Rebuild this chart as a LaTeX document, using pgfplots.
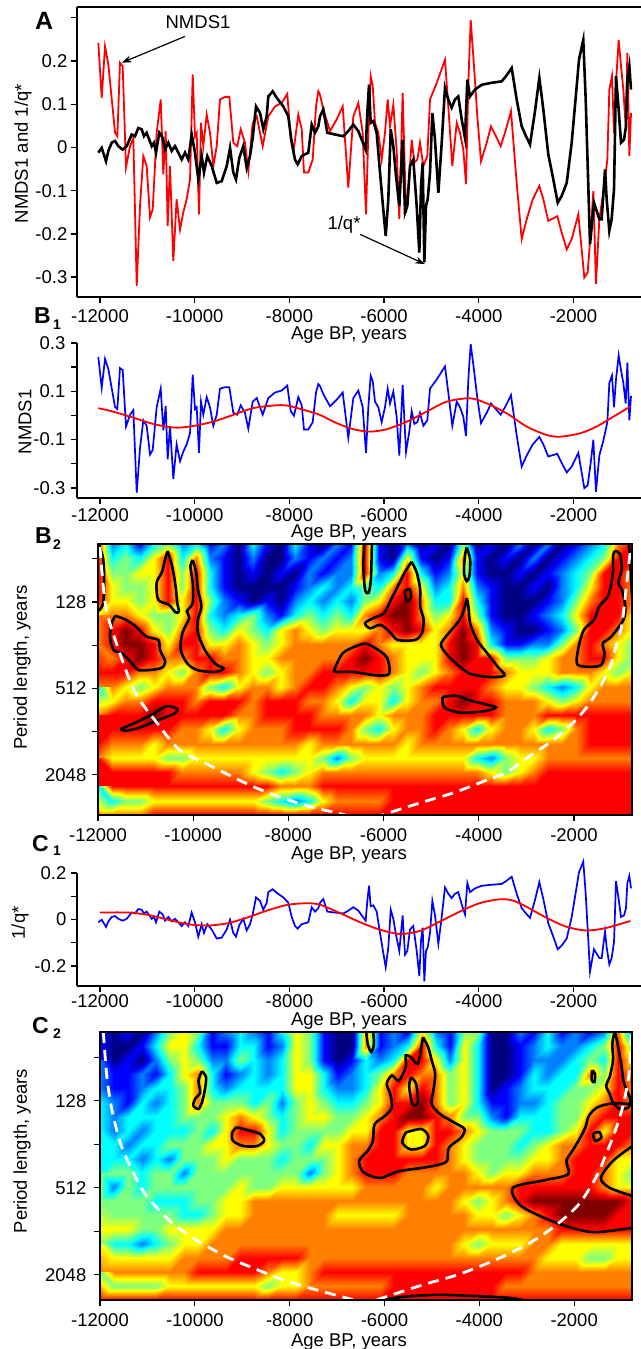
\documentclass[border=0pt]{standalone}
\usepackage{fontspec}
\setmainfont{Liberation Sans}
\usepackage{pgfplots}
\pgfplotsset{compat=1.18}
\usepackage{pgfplotstable}
\usetikzlibrary{arrows.meta}

\pgfplotstableread{
age v
-12036 0.242
-11964 0.115
-11894 0.234
-11824 0.192
-11683 0.035
-11634 0.026
-11578 0.196
-11521 0.188
-11451 -0.046
-11366 0.003
-11296 0.022
-11225 -0.320
-11155 -0.135
-11085 -0.020
-11014 -0.043
-10944 -0.162
-10887 -0.143
-10803 0.034
-10718 0.111
-10663 -0.062
-10613 0.038
-10571 -0.182
-10522 -0.043
-10452 -0.263
-10382 -0.120
-10310 -0.190
-10241 -0.150
-10170 -0.120
-10099 -0.074
-10042 0.169
-9994 0.026
-9958 0.034
-9909 -0.155
-9867 0.057
-9818 0.003
-9747 0.076
-9677 0.034
-9607 -0.043
-9535 0.003
-9466 0.111
-9360 0.117
-9269 0.117
-9185 0.011
-9100 0.003
-9028 0.042
-8938 0.011
-8868 -0.055
-8775 0.057
-8690 0.072
-8564 0.003
-8445 0.072
-8304 0.095
-8163 0.103
-8044 0.124
-7972 0.018
-7903 -0.001
-7812 0.076
-7740 0.042
-7692 -0.058
-7601 -0.058
-7508 -0.028
-7438 0.095
-7389 0.130
-7354 0.122
-7284 0.088
-7142 0.038
-7001 0.065
-6874 0.095
-6756 -0.093
-6650 0.072
-6544 0.103
-6452 0.034
-6382 -0.155
-6333 0.034
-6283 0.165
-6240 0.142
-6192 0.057
-6122 0.034
-6051 -0.028
-5981 0.034
-5924 0.111
-5875 0.049
-5805 0.099
-5735 -0.005
-5679 -0.166
-5608 0.126
-5537 -0.151
-5467 -0.066
-5417 0.018
-5361 -0.035
-5298 -0.028
-5242 0.011
-5171 -0.043
-5087 -0.020
-5030 0.111
-4889 0.149
-4714 0.203
-4644 0.095
-4559 -0.043
-4466 0.057
-4397 0.034
-4327 -0.005
-4270 -0.085
-4221 0.149
-4171 0.295
-4101 0.188
-4031 0.072
-3953 -0.032
-3833 0.011
-3742 0.049
-3637 0.026
-3537 0.003
-3425 0.042
-3320 0.084
-3200 -0.082
-3094 -0.212
-2988 -0.166
-2861 -0.120
-2721 -0.089
-2637 -0.120
-2532 -0.170
-2342 -0.159
-2249 -0.197
-2143 -0.236
-2038 -0.212
-1898 -0.155
-1771 -0.301
-1700 -0.289
-1637 -0.197
-1581 -0.101
-1525 -0.316
-1454 -0.166
-1370 -0.105
-1285 -0.028
-1243 0.134
-1187 0.165
-1144 0.034
-1102 0.149
-1046 0.249
-996 0.188
-947 0.134
-897 0.049
-862 0.219
-820 -0.020
-785 0.080
}\nmds

\pgfplotstableread{
age v
-12036 -0.012
-11964 -0.001
-11873 -0.032
-11824 -0.008
-11753 0.011
-11683 0.015
-11613 0.003
-11521 -0.005
-11436 0.003
-11331 0.030
-11261 0.026
-11191 0.045
-11120 0.042
-11071 0.026
-11014 0.034
-10959 0.018
-10908 0.003
-10860 0.011
-10817 -0.012
-10748 0.034
-10676 0.022
-10627 -0.005
-10557 0.011
-10486 -0.008
-10416 0.003
-10346 -0.012
-10275 -0.028
-10205 -0.012
-10135 -0.028
-10064 0.030
-9994 -0.012
-9924 -0.074
-9853 -0.020
-9804 -0.058
-9734 -0.020
-9641 -0.043
-9535 -0.082
-9430 -0.078
-9324 -0.043
-9254 -0.001
-9185 -0.058
-9128 -0.074
-9058 -0.024
-8974 0.003
-8902 -0.047
-8832 -0.020
-8775 0.022
-8705 0.095
-8621 0.080
-8551 0.042
-8480 0.072
-8445 0.118
-8353 0.130
-8268 0.115
-8129 0.095
-8023 0.072
-7951 0.011
-7882 -0.028
-7825 -0.039
-7740 -0.020
-7670 -0.016
-7601 -0.012
-7529 0.053
-7459 0.034
-7389 0.049
-7354 0.072
-7284 0.088
-7199 0.034
-7037 0.030
-6862 0.026
-6756 0.038
-6650 0.053
-6544 0.038
-6473 0.018
-6389 -0.005
-6354 0.080
-6319 0.145
-6283 0.057
-6227 0.061
-6157 0.034
-6086 -0.058
-6030 -0.128
-5966 -0.205
-5911 -0.120
-5860 0.042
-5805 0.003
-5748 -0.066
-5679 -0.135
-5608 0.018
-5558 -0.151
-5509 -0.135
-5453 -0.043
-5383 -0.028
-5312 -0.135
-5256 -0.243
-5220 -0.089
-5185 -0.035
-5150 -0.266
-5115 -0.135
-5079 -0.120
-5030 -0.058
-4981 0.080
-4925 0.018
-4854 -0.105
-4783 0.011
-4714 0.138
-4644 0.111
-4573 0.092
-4502 0.111
-4433 0.118
-4361 0.065
-4291 0.022
-4242 0.157
-4186 0.118
-4080 0.134
-3939 0.145
-3763 0.149
-3516 0.153
-3425 0.165
-3305 0.184
-3200 0.111
-3094 0.049
-3003 0.026
-2918 0.007
-2813 0.084
-2721 0.161
-2637 0.088
-2532 -0.016
-2426 -0.074
-2333 -0.128
-2249 -0.112
-2143 -0.082
-2038 0.011
-1932 0.142
-1884 0.203
-1793 0.249
-1742 0.111
-1687 -0.089
-1651 -0.224
-1567 -0.128
-1454 -0.166
-1405 -0.166
-1334 -0.051
-1299 -0.120
-1243 -0.193
-1194 -0.166
-1144 -0.097
-1102 0.165
-1046 0.088
-996 0.011
-933 0.018
-891 0.049
-862 0.157
-820 0.188
-785 0.134
}\invq

\pgfplotstableread{
age v
-12036 0.030
-11725 0.016
-11303 -0.009
-10881 -0.035
-10458 -0.050
-10099 -0.046
-9613 -0.026
-9191 0.002
-8769 0.030
-8346 0.041
-8051 0.041
-7628 0.019
-7354 0.002
-7001 -0.032
-6650 -0.057
-6298 -0.067
-5945 -0.057
-5523 -0.026
-5100 0.016
-4678 0.057
-4186 0.071
-3833 0.050
-3411 0.009
-2988 -0.046
-2566 -0.081
-2285 -0.088
-1862 -0.074
-1510 -0.046
-1159 -0.005
-806 0.036
}\nmdsfit

\pgfplotstableread{
age v
-12000 0.030
-11404 0.030
-10984 0.020
-10564 -0.001
-10144 -0.020
-9724 -0.026
-9304 -0.016
-8884 0.009
-8464 0.039
-8044 0.063
-7624 0.070
-7344 0.063
-6924 0.027
-6504 -0.012
-6084 -0.044
-5664 -0.062
-5244 -0.049
-4824 -0.009
-4404 0.034
-3984 0.070
-3564 0.087
-3285 0.082
-3004 0.056
-2584 0.009
-2164 -0.030
-1744 -0.047
-1324 -0.037
-799 -0.006
}\invqfit

\newcommand{\lf}{\fontsize{18.5bp}{22bp}\selectfont}

\pgfplotsset{
  every non boxed x axis/.style={},
  every non boxed y axis/.style={},
  common/.style={
    scale only axis,
    scaled x ticks=false, scaled y ticks=false,
    tick align=outside,
    major tick length=5.5bp,
    every tick/.append style={line width=1.3bp, black},
    axis line style={line width=1.5bp, -},
    tick label style={font=\lf, inner sep=0pt},
    xtick={-12000,-10000,-8000,-6000,-4000,-2000},
    xticklabels={-12000,-10000,-8000,-6000,-4000,-2000},
    xticklabel style={anchor=north},
    yticklabel style={anchor=east},
    xlabel={Age BP, years},
  },
  lineaxis/.style={common, axis lines=left, xmin=-12486, xmax=-574, width=564bp},
  heat/.style={common, axis on top, xmin=-12000, xmax=-780, y dir=reverse,
    xtick pos=left, ytick pos=left, ytick={6,7,8,9,10,11},
    yticklabels={,128,,512,,2048}, ylabel={Period length, years},
    colormap/jet, point meta min=0, point meta max=8},
  cont/.style={black, line width=2.6bp, smooth, tension=0.5},
  coi/.style={white, line width=2.8bp, dash pattern=on 11bp off 7bp, smooth},
}

\begin{document}
\begin{tikzpicture}
\useasboundingbox (0,0) rectangle (641bp,-1349bp);
\fill[white] (0,0) rectangle (641bp,-1349bp);

% ---------------- Panel A
\begin{axis}[lineaxis, at={(77bp,-7bp)}, anchor=north west, height=290bp,
  ymin=-0.346, ymax=0.325, clip=false,
  ytick={-0.3,-0.2,-0.1,0,0.1,0.2,0.3}, yticklabels={-0.3,-0.2,-0.1,0,0.1,0.2,},
  ylabel={NMDS1 and 1/q*},
  xlabel style={font=\lf, inner sep=0pt, at={(axis description cs:0.4823,0)}, anchor=north, yshift=-30bp},
  ylabel style={font=\lf, inner sep=0pt, at={(axis description cs:-0.0957,0.494)}, anchor=center},
  xticklabel style={yshift=-7bp}, yticklabel style={xshift=-4bp}]
\addplot[red, line width=1.8bp] table[x=age,y=v]{\nmds};
\addplot[black, line width=2.6bp] table[x=age,y=v]{\invq};
\draw[line width=1.5bp] (rel axis cs:0,1) -- (rel axis cs:1,1);
\node[font=\lf] at (axis cs:-9930,0.289) {NMDS1};
\draw[-{Stealth[length=10bp,width=7bp]}, line width=1.2bp] (axis cs:-10205,0.257) -- (axis cs:-11542,0.196);
\node[font=\lf] at (axis cs:-6847,-0.178) {1/q*};
\draw[-{Stealth[length=10bp,width=7bp]}, line width=1.2bp] (axis cs:-6509,-0.201) -- (axis cs:-5136,-0.270);
\end{axis}

% ---------------- Panel B1
\begin{axis}[lineaxis, at={(77bp,-343bp)}, anchor=north west, height=155bp,
  ymin=-0.342, ymax=0.3, clip=false,
  ytick={-0.3,-0.2,-0.1,0,0.1,0.2,0.3}, yticklabels={-0.3,,-0.1,,0.1,,0.3},
  ylabel={NMDS1},
  xlabel style={font=\lf, inner sep=0pt, at={(axis description cs:0.4823,0)}, anchor=north, yshift=-27bp},
  ylabel style={font=\lf, inner sep=0pt, at={(axis description cs:-0.0922,0.492)}, anchor=center},
  xticklabel style={yshift=-5bp}, yticklabel style={xshift=-6bp}]
\addplot[blue, line width=1.7bp] table[x=age,y=v]{\nmds};
\addplot[red, line width=1.8bp, smooth] table[x=age,y=v]{\nmdsfit};
\end{axis}

% ---------------- Panel B2
\begin{axis}[heat, at={(98bp,-544bp)}, anchor=north west, width=534bp, height=271bp,
  ymin=5.66, ymax=11.93,
  xlabel style={font=\lf, inner sep=0pt, at={(axis description cs:0.470,0)}, anchor=north, yshift=-32bp},
  ylabel style={font=\lf, inner sep=0pt, at={(axis description cs:-0.1423,0.544)}, anchor=center},
  xticklabel style={yshift=-8bp}, yticklabel style={xshift=-6bp}]
\addplot[surf, shader=interp, mesh/cols=39, point meta=explicit] table[header=false, row sep=\\, meta index=0,
  x expr={-12000+mod(\coordindex,39)*295.2632}, y expr={5.66+floor(\coordindex/39)*0.33}] {
7\\2\\3\\1\\3\\4\\2\\3\\1\\2\\0\\3\\1\\0\\3\\1\\0\\2\\1\\7\\1\\0\\2\\0\\1\\0\\4\\0\\1\\0\\2\\0\\2\\0\\1\\2\\3\\6\\7\\
7\\3\\4\\3\\5\\7\\3\\6\\2\\1\\0\\2\\0\\0\\2\\1\\2\\1\\2\\7\\1\\0\\5\\1\\0\\1\\6\\1\\0\\1\\0\\2\\0\\1\\2\\3\\4\\7\\7\\
7\\4\\4\\5\\5\\7\\4\\7\\3\\1\\0\\1\\0\\1\\0\\2\\1\\2\\2\\7\\2\\3\\7\\3\\1\\2\\5\\1\\0\\0\\1\\0\\1\\2\\3\\4\\7\\7\\6\\
7\\5\\4\\4\\5\\7\\4\\7\\3\\1\\0\\0\\0\\0\\1\\2\\3\\2\\3\\4\\3\\6\\7\\5\\2\\3\\6\\2\\1\\0\\0\\1\\0\\2\\3\\5\\7\\7\\6\\
7\\5\\5\\4\\5\\7\\5\\7\\4\\2\\1\\0\\1\\0\\2\\3\\2\\3\\2\\4\\5\\7\\8\\6\\3\\3\\7\\3\\1\\0\\0\\0\\1\\2\\4\\6\\7\\7\\6\\
5\\6\\6\\5\\4\\4\\5\\7\\3\\2\\3\\4\\2\\1\\3\\4\\3\\4\\3\\6\\7\\8\\8\\6\\4\\5\\7\\4\\1\\0\\0\\1\\2\\3\\5\\7\\7\\7\\5\\
6\\7\\8\\7\\5\\4\\6\\7\\4\\3\\5\\4\\3\\5\\6\\5\\4\\5\\5\\5\\6\\7\\8\\7\\5\\6\\8\\6\\2\\1\\0\\0\\1\\2\\4\\7\\7\\6\\5\\
6\\7\\8\\8\\7\\5\\7\\7\\5\\5\\6\\5\\4\\5\\6\\6\\6\\6\\6\\7\\6\\5\\5\\5\\5\\7\\8\\7\\3\\1\\1\\2\\2\\4\\6\\7\\6\\5\\4\\
6\\6\\7\\8\\7\\6\\6\\7\\7\\6\\6\\5\\5\\6\\6\\6\\6\\6\\7\\8\\7\\6\\5\\5\\5\\7\\8\\7\\7\\4\\4\\4\\5\\6\\6\\7\\7\\5\\4\\
7\\7\\7\\6\\6\\5\\4\\6\\7\\7\\6\\5\\4\\5\\6\\6\\7\\7\\7\\7\\7\\6\\5\\4\\5\\6\\7\\7\\7\\6\\5\\5\\5\\6\\6\\6\\5\\4\\5\\
6\\6\\5\\4\\5\\6\\6\\6\\4\\3\\5\\6\\6\\5\\6\\7\\7\\6\\5\\4\\5\\4\\5\\6\\7\\7\\7\\7\\6\\5\\5\\4\\3\\2\\3\\5\\6\\6\\6\\
3\\5\\6\\6\\7\\7\\7\\6\\7\\7\\7\\6\\7\\7\\7\\6\\6\\5\\3\\5\\5\\3\\5\\6\\6\\7\\8\\7\\7\\6\\6\\6\\5\\4\\5\\6\\6\\6\\6\\
6\\7\\7\\7\\8\\7\\7\\7\\7\\7\\6\\6\\7\\7\\7\\7\\6\\6\\6\\6\\5\\6\\6\\6\\7\\7\\7\\7\\7\\6\\6\\6\\7\\7\\7\\7\\7\\7\\7\\
7\\7\\7\\7\\7\\7\\6\\6\\5\\3\\5\\6\\6\\6\\7\\7\\7\\7\\6\\4\\3\\5\\6\\6\\7\\6\\5\\3\\5\\6\\6\\5\\3\\4\\6\\7\\7\\7\\7\\
7\\6\\6\\6\\5\\6\\6\\6\\6\\6\\6\\6\\6\\6\\6\\5\\6\\6\\6\\6\\6\\6\\5\\6\\6\\6\\6\\6\\6\\6\\6\\6\\6\\6\\6\\7\\7\\7\\7\\
6\\5\\5\\5\\5\\4\\4\\5\\5\\5\\5\\5\\5\\5\\5\\5\\4\\2\\4\\5\\5\\5\\5\\5\\5\\5\\5\\3\\2\\4\\5\\5\\6\\6\\6\\6\\6\\6\\6\\
7\\7\\7\\7\\7\\7\\6\\6\\6\\6\\6\\5\\4\\3\\4\\5\\6\\6\\6\\6\\6\\6\\6\\6\\6\\6\\6\\6\\5\\4\\5\\6\\7\\7\\7\\7\\7\\7\\7\\
7\\7\\7\\7\\7\\7\\7\\7\\7\\7\\7\\7\\7\\6\\6\\6\\7\\7\\7\\7\\7\\7\\7\\7\\7\\7\\7\\7\\7\\7\\7\\7\\7\\7\\7\\7\\7\\7\\7\\
3\\3\\4\\4\\5\\5\\5\\5\\5\\5\\5\\5\\4\\3\\2\\3\\5\\6\\6\\6\\6\\7\\7\\7\\7\\7\\7\\7\\7\\7\\7\\7\\7\\7\\7\\7\\7\\7\\7\\
6\\6\\6\\6\\7\\7\\7\\7\\7\\7\\7\\7\\7\\7\\7\\7\\7\\7\\7\\7\\7\\7\\7\\7\\7\\7\\7\\7\\7\\7\\7\\7\\7\\7\\7\\7\\7\\7\\7\\
};
\addplot[cont] coordinates {(-11986,5.66) (-11891,6.01) (-11870,6.56) (-11891,7.02) (-11964,7.18) (-12010,7.2)};
\addplot[cont] coordinates {(-10538,5.82) (-10443,6.17) (-10371,6.63) (-10335,7.02) (-10299,7.22) (-10371,7.24) (-10516,7.06) (-10733,6.95) (-10769,6.56) (-10660,6.32) (-10588,6.01) (-10538,5.82)};
\addplot[cont] coordinates {(-10009,6.03) (-9937,6.32) (-9900,6.71) (-9828,7.10) (-9900,7.41) (-9900,7.72) (-9756,8.11) (-9538,8.43) (-9357,8.54) (-9538,8.62) (-9900,8.58) (-10118,8.43) (-10262,8.11) (-10226,7.72) (-10081,7.37) (-10132,7.22) (-10009,7.02) (-10009,6.56) (-10060,6.17) (-10009,6.03)};
\addplot[cont] coordinates {(-11638,7.32) (-11421,7.41) (-11204,7.57) (-10986,7.80) (-10733,7.88) (-10697,8.11) (-10588,8.39) (-10697,8.54) (-11131,8.58) (-11276,8.43) (-11493,8.19) (-11674,8.11) (-11747,7.80) (-11710,7.49) (-11638,7.32)};
\addplot[cont] coordinates {(-11529,9.94) (-11204,9.79) (-10842,9.59) (-10552,9.41) (-10335,9.48) (-10407,9.59) (-10769,9.75) (-11131,9.91) (-11421,9.98) (-11529,9.94)};
\addplot[cont] coordinates {(-6404,5.6) (-6425,6.17) (-6389,6.71) (-6317,6.79) (-6266,6.48) (-6244,5.6)};
\addplot[cont] coordinates {(-5412,6.07) (-5303,6.32) (-5231,6.71) (-5231,7.10) (-5158,7.41) (-5195,7.72) (-5339,7.88) (-5701,7.88) (-5846,7.72) (-6063,7.53) (-6281,7.61) (-6389,7.49) (-6208,7.37) (-5991,7.26) (-5846,6.95) (-5665,6.56) (-5557,6.32) (-5448,6.13) (-5412,6.07)};
\addplot[cont] coordinates {(-5557,6.75) (-5448,6.71) (-5426,6.91) (-5520,6.98) (-5557,6.75)};
\addplot[cont] coordinates {(-7041,8.58) (-6860,8.19) (-6570,8.02) (-6353,7.97) (-6063,8.15) (-5918,8.31) (-5882,8.66) (-6136,8.70) (-6643,8.62) (-7005,8.62) (-7041,8.58)};
\addplot[cont] coordinates {(-4253,5.74) (-4181,6.01) (-4195,6.40) (-4253,6.52) (-4311,6.32) (-4289,5.93) (-4253,5.74)};
\addplot[cont] coordinates {(-4253,6.91) (-4217,7.10) (-4181,7.49) (-4036,7.88) (-3819,8.19) (-3602,8.50) (-3458,8.70) (-3747,8.74) (-4181,8.66) (-4471,8.43) (-4688,8.19) (-4796,7.99) (-4688,7.80) (-4398,7.41) (-4289,7.10) (-4253,6.91)};
\addplot[cont] coordinates {(-4760,9.20) (-4471,9.17) (-4181,9.28) (-3891,9.36) (-3638,9.44) (-3891,9.53) (-4398,9.56) (-4724,9.44) (-4760,9.20)};
\addplot[cont] coordinates {(-1141,5.82) (-1032,5.89) (-996,6.24) (-1068,6.56) (-996,6.71) (-923,7.10) (-959,7.41) (-1213,7.80) (-1394,7.96) (-1358,8.19) (-1430,8.46) (-1720,8.50) (-1937,8.43) (-1901,8.04) (-1792,7.65) (-1575,7.41) (-1466,7.10) (-1285,6.87) (-1213,6.56) (-1177,6.24) (-1177,5.93) (-1141,5.82)};
\addplot[cont] coordinates {(-851,5.6) (-822,6.0) (-779,6.9)};
\addplot[coi] coordinates {(-11958,5.73) (-11853,7.00) (-11685,7.72) (-11244,9.04) (-10760,9.80) (-10277,10.43) (-9710,10.75) (-8807,11.24) (-8113,11.54) (-7504,11.75) (-7063,11.86) (-6769,11.94) (-6390,12.05) (-5949,11.90) (-5235,11.65) (-4541,11.42) (-3827,11.12) (-3407,10.94) (-2987,10.61) (-2440,10.20) (-2020,9.80) (-1726,9.43) (-1453,8.97) (-1243,8.51) (-1138,8.11) (-1032,7.72) (-970,7.35) (-822,5.87)};
\end{axis}

% ---------------- Panel C1
\begin{axis}[lineaxis, at={(77bp,-873bp)}, anchor=north west, height=113bp,
  ymin=-0.286, ymax=0.2, clip=false,
  ytick={-0.2,-0.1,0,0.1,0.2}, yticklabels={-0.2,,0,,0.2},
  ylabel={1/q*},
  xlabel style={font=\lf, inner sep=0pt, at={(axis description cs:0.4823,0)}, anchor=north, yshift=-27bp},
  ylabel style={font=\lf, inner sep=0pt, at={(axis description cs:-0.1011,0.558)}, anchor=center},
  xticklabel style={yshift=-3bp}, yticklabel style={xshift=-5bp}]
\addplot[blue, line width=1.7bp] table[x=age,y=v]{\invq};
\addplot[red, line width=1.8bp, smooth] table[x=age,y=v]{\invqfit};
\end{axis}

% ---------------- Panel C2
\begin{axis}[heat, at={(100bp,-1032bp)}, anchor=north west, width=532bp, height=268bp,
  ymin=5.42, ymax=11.58,
  xlabel style={font=\lf, inner sep=0pt, at={(axis description cs:0.468,0)}, anchor=north, yshift=-34bp},
  ylabel style={font=\lf, inner sep=0pt, at={(axis description cs:-0.1466,0.556)}, anchor=center},
  xticklabel style={yshift=-8bp}, yticklabel style={xshift=-8bp}]
\addplot[surf, shader=interp, mesh/cols=39, point meta=explicit] table[header=false, row sep=\\, meta index=0,
  x expr={-12000+mod(\coordindex,39)*295.2632}, y expr={5.42+floor(\coordindex/39)*0.32421}] {
1\\0\\1\\0\\2\\4\\5\\4\\1\\2\\3\\2\\1\\3\\5\\4\\1\\0\\0\\6\\1\\2\\1\\5\\2\\1\\4\\4\\0\\0\\2\\1\\3\\1\\2\\1\\2\\6\\2\\
1\\0\\0\\1\\3\\5\\5\\3\\1\\1\\3\\3\\1\\2\\5\\4\\1\\0\\0\\6\\1\\2\\3\\7\\3\\1\\5\\3\\0\\0\\1\\2\\3\\2\\2\\3\\4\\7\\4\\
1\\0\\1\\0\\2\\4\\5\\4\\2\\2\\4\\3\\2\\3\\5\\4\\1\\0\\1\\3\\2\\3\\7\\7\\5\\2\\5\\3\\0\\0\\1\\2\\2\\2\\3\\4\\3\\7\\5\\
2\\1\\1\\2\\1\\3\\5\\6\\3\\1\\2\\3\\2\\3\\5\\5\\3\\1\\2\\3\\4\\6\\7\\6\\6\\4\\5\\3\\0\\0\\1\\3\\2\\3\\3\\6\\4\\7\\6\\
2\\1\\1\\2\\3\\3\\4\\6\\3\\2\\3\\3\\3\\3\\5\\5\\3\\2\\2\\3\\5\\7\\5\\7\\6\\4\\5\\3\\0\\1\\2\\3\\3\\3\\4\\4\\5\\7\\6\\
3\\2\\1\\3\\2\\3\\4\\6\\4\\4\\4\\3\\4\\2\\4\\5\\4\\3\\3\\4\\5\\7\\7\\8\\6\\4\\5\\3\\1\\1\\2\\2\\3\\4\\4\\5\\6\\7\\6\\
3\\2\\3\\3\\3\\3\\4\\4\\4\\5\\6\\5\\4\\3\\4\\5\\5\\4\\4\\5\\6\\7\\8\\8\\7\\6\\4\\4\\2\\1\\3\\3\\3\\4\\4\\6\\7\\7\\7\\
3\\2\\3\\2\\3\\3\\3\\4\\3\\5\\7\\7\\5\\3\\4\\4\\4\\4\\5\\5\\7\\7\\5\\5\\7\\7\\6\\5\\4\\4\\4\\3\\3\\4\\5\\7\\5\\7\\7\\
3\\3\\2\\3\\3\\4\\4\\4\\5\\5\\6\\6\\5\\4\\4\\3\\5\\5\\6\\6\\7\\7\\5\\5\\7\\6\\5\\4\\4\\4\\3\\4\\5\\6\\6\\7\\7\\7\\6\\
3\\3\\3\\2\\3\\2\\4\\4\\4\\5\\4\\4\\4\\3\\4\\4\\4\\5\\6\\7\\7\\7\\7\\7\\7\\6\\5\\4\\4\\4\\4\\5\\5\\6\\7\\7\\7\\5\\5\\
3\\4\\4\\3\\4\\4\\2\\4\\4\\4\\4\\4\\4\\4\\4\\2\\4\\5\\6\\7\\7\\7\\6\\6\\6\\6\\6\\5\\4\\5\\5\\6\\6\\6\\7\\7\\6\\5\\4\\
4\\2\\4\\3\\4\\4\\4\\4\\4\\4\\5\\4\\4\\5\\5\\5\\5\\5\\5\\6\\6\\6\\6\\6\\5\\6\\6\\6\\6\\6\\7\\7\\7\\7\\7\\7\\6\\5\\5\\
4\\4\\4\\4\\3\\3\\3\\4\\4\\5\\5\\6\\6\\6\\6\\6\\6\\6\\6\\6\\6\\6\\6\\6\\6\\6\\5\\4\\5\\6\\7\\8\\8\\8\\8\\8\\8\\8\\7\\
4\\4\\4\\4\\4\\4\\3\\3\\4\\5\\5\\6\\6\\6\\6\\6\\6\\5\\5\\5\\5\\5\\6\\6\\6\\6\\6\\5\\5\\4\\5\\6\\7\\8\\8\\8\\8\\7\\7\\
5\\5\\5\\4\\4\\5\\5\\5\\5\\6\\6\\6\\6\\6\\6\\6\\6\\6\\6\\6\\6\\6\\6\\6\\6\\6\\6\\6\\6\\6\\6\\6\\6\\7\\7\\7\\7\\7\\7\\
4\\3\\3\\2\\3\\4\\5\\5\\6\\6\\6\\6\\6\\6\\6\\6\\6\\6\\6\\6\\6\\6\\6\\6\\6\\6\\5\\4\\5\\5\\5\\6\\6\\5\\5\\5\\5\\5\\5\\
5\\5\\5\\5\\5\\5\\6\\6\\6\\6\\7\\7\\7\\7\\7\\6\\6\\6\\6\\6\\6\\6\\6\\6\\6\\6\\6\\6\\6\\6\\6\\6\\5\\5\\5\\4\\4\\5\\5\\
6\\6\\6\\6\\6\\6\\6\\7\\7\\7\\7\\7\\6\\5\\5\\6\\7\\7\\7\\7\\7\\7\\7\\7\\7\\7\\7\\7\\7\\7\\7\\6\\6\\6\\6\\6\\6\\6\\6\\
4\\4\\4\\4\\4\\5\\5\\5\\5\\5\\5\\5\\4\\5\\5\\6\\6\\6\\6\\6\\6\\7\\7\\7\\7\\7\\7\\7\\7\\6\\6\\6\\6\\6\\6\\6\\6\\6\\6\\
7\\7\\7\\7\\7\\7\\7\\7\\7\\7\\7\\7\\7\\7\\7\\7\\7\\7\\7\\7\\7\\7\\7\\7\\7\\7\\7\\7\\7\\7\\7\\7\\7\\7\\7\\7\\7\\7\\7\\
};
\addplot[cont] coordinates {(-9851,6.32) (-9763,6.46) (-9792,6.77) (-9851,7.04) (-9923,7.19) (-10033,7.11) (-9996,6.96) (-9887,6.81) (-9923,6.54) (-9851,6.32)};
\addplot[cont] coordinates {(-9122,7.61) (-8831,7.69) (-8612,7.77) (-8539,7.92) (-8685,8.04) (-8976,8.04) (-9195,7.92) (-9209,7.73) (-9122,7.61)};
\addplot[cont] coordinates {(-6390,5.38) (-6353,5.69) (-6280,5.88) (-6222,5.69) (-6244,5.38)};
\addplot[cont] coordinates {(-5188,5.54) (-5078,5.77) (-5005,6.07) (-4932,6.38) (-4969,6.77) (-5005,7.08) (-4823,7.31) (-4532,7.50) (-4313,7.65) (-4386,7.85) (-4641,8.08) (-4677,8.38) (-4823,8.46) (-5188,8.54) (-5698,8.62) (-6062,8.77) (-6280,8.73) (-6463,8.62) (-6535,8.38) (-6353,8.15) (-6244,7.92) (-6208,7.54) (-5989,7.35) (-5843,7.15) (-5880,6.84) (-5953,6.61) (-5843,6.42) (-5698,6.54) (-5552,6.23) (-5552,5.96) (-5443,6.00) (-5297,6.15) (-5224,5.77) (-5188,5.54)};
\addplot[cont] coordinates {(-5552,7.73) (-5224,7.65) (-5078,7.81) (-5151,8.04) (-5443,8.12) (-5625,7.96) (-5552,7.73)};
\addplot[cont] coordinates {(-5443,6.46) (-5334,6.61) (-5297,7.04) (-5406,7.08) (-5479,6.69) (-5443,6.46)};
\addplot[cont] coordinates {(-1144,5.38) (-1071,5.77) (-998,6.23) (-962,6.54) (-889,6.77) (-816,6.96) (-853,7.15) (-1035,7.19) (-1180,7.04) (-1253,6.84) (-1326,6.65) (-1253,6.46) (-1180,6.07) (-1195,5.69) (-1144,5.38)};
\addplot[cont] coordinates {(-1618,6.30) (-1560,6.38) (-1574,6.57) (-1633,6.52) (-1618,6.30)};
\addplot[cont] coordinates {(-770,7.08) (-1180,7.06) (-1508,7.15) (-1690,7.35) (-1763,7.61) (-1873,7.85) (-2018,8.12) (-2164,8.38) (-2128,8.69) (-2637,8.83) (-3293,9.00) (-3148,9.39) (-2637,9.69) (-2055,9.92) (-1545,10.02) (-770,9.92)};
\addplot[cont] coordinates {(-770,8.04) (-1180,8.38) (-1436,8.77) (-1253,9.00) (-770,9.19)};
\addplot[cont] coordinates {(-1600,7.75) (-1470,7.72) (-1430,7.85) (-1560,7.92) (-1600,7.75)};
\addplot[cont] coordinates {(-6208,11.60) (-5552,11.50) (-4823,11.46) (-4095,11.49) (-3366,11.53) (-3002,11.60)};
\addplot[coi] coordinates {(-11930,5.42) (-11854,6.46) (-11745,7.23) (-11563,8.00) (-11381,8.46) (-11089,9.08) (-10798,9.46) (-10434,9.85) (-9923,10.23) (-9341,10.58) (-8758,10.85) (-8029,11.16) (-7155,11.43) (-6572,11.60) (-6400,11.66) (-6062,11.54) (-5188,11.23) (-4459,11.00) (-3730,10.69) (-3002,10.31) (-2419,9.89) (-1909,9.39) (-1545,8.77) (-1326,8.23) (-1107,7.61) (-962,7.08) (-853,6.46) (-802,5.77) (-790,5.42)};
\end{axis}

% ---------------- Panel letters
\node[anchor=base west, inner sep=0pt, font=\bfseries\fontsize{25bp}{25bp}\selectfont] at (35bp,-29.5bp) {A};
\node[anchor=base west, inner sep=0pt, font=\bfseries\fontsize{23bp}{23bp}\selectfont] at (34bp,-323.5bp) {B};
\node[anchor=base west, inner sep=0pt, font=\bfseries\fontsize{14bp}{14bp}\selectfont] at (53bp,-329bp) {1};
\node[anchor=base west, inner sep=0pt, font=\bfseries\fontsize{23bp}{23bp}\selectfont] at (35bp,-543.5bp) {B};
\node[anchor=base west, inner sep=0pt, font=\bfseries\fontsize{14bp}{14bp}\selectfont] at (53bp,-549bp) {2};
\node[anchor=base west, inner sep=0pt, font=\bfseries\fontsize{23bp}{23bp}\selectfont] at (32bp,-851bp) {C};
\node[anchor=base west, inner sep=0pt, font=\bfseries\fontsize{14bp}{14bp}\selectfont] at (53bp,-855bp) {1};
\node[anchor=base west, inner sep=0pt, font=\bfseries\fontsize{23bp}{23bp}\selectfont] at (32bp,-1033.5bp) {C};
\node[anchor=base west, inner sep=0pt, font=\bfseries\fontsize{14bp}{14bp}\selectfont] at (53bp,-1038bp) {2};
\end{tikzpicture}
\end{document}
